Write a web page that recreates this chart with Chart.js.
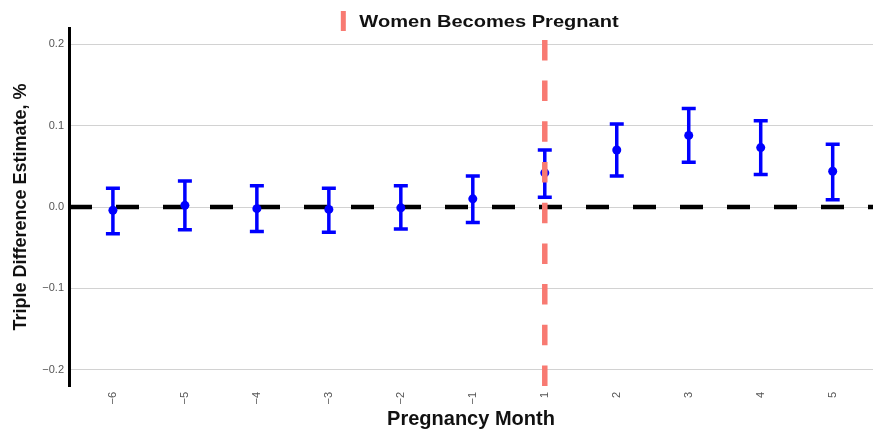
<!DOCTYPE html>
<html>
<head>
<meta charset="utf-8">
<script src="https://cdn.jsdelivr.net/npm/chart.js@4/dist/chart.umd.min.js"></script>
<style>
  html, body { margin: 0; padding: 0; background: #fff; }
  #chart { display: block; }
</style>
</head>
<body>
<canvas id="chart" width="873" height="433"></canvas>
<script>
// Event-study estimates by pregnancy month
const months = ['\u22126', '\u22125', '\u22124', '\u22123', '\u22122', '\u22121', '1', '2', '3', '4', '5'];
const estimates = [-0.004, 0.002, -0.002, -0.003, -0.001, 0.010, 0.042, 0.070, 0.088, 0.073, 0.044];
const lower = [-0.033, -0.028, -0.030, -0.031, -0.027, -0.019, 0.012, 0.038, 0.055, 0.040, 0.009];
const upper = [0.023, 0.032, 0.026, 0.023, 0.026, 0.038, 0.070, 0.102, 0.121, 0.106, 0.077];
const yTicks = [-0.2, -0.1, 0, 0.1, 0.2];
const pregnancyMonth = '1';
const eventLabel = 'Women Becomes Pregnant';

const xMin = -0.61, xMax = 10.56;
const yMin = -0.22, yMax = 0.22;
const eventX = months.indexOf(pregnancyMonth);

const FONT = "'Liberation Sans', Arial, Helvetica, sans-serif";
const BLUE = '#0000ff';
const RED = '#f87a72';

// draws the confidence interval whiskers using the chart scales
const errorBars = {
    id: 'errorBars',
    beforeDatasetDraw(chart, args) {
        if (args.index !== 1) return;
        const x = chart.scales.x, y = chart.scales.y;
        const ctx = chart.ctx;
        ctx.save();
        ctx.strokeStyle = BLUE;
        ctx.lineWidth = 3.5;
        months.forEach((m, i) => {
            const px = x.getPixelForValue(i);
            const top = y.getPixelForValue(upper[i]);
            const bot = y.getPixelForValue(lower[i]);
            ctx.beginPath();
            ctx.moveTo(px, top);
            ctx.lineTo(px, bot);
            ctx.moveTo(px - 7, top);
            ctx.lineTo(px + 7, top);
            ctx.moveTo(px - 7, bot);
            ctx.lineTo(px + 7, bot);
            ctx.stroke();
        });
        ctx.restore();
    }
};

// legend sits over the top edge of the plot, so it is drawn by hand
const topLegend = {
    id: 'topLegend',
    afterDraw(chart) {
        const ctx = chart.ctx;
        const area = chart.chartArea;
        const cx = (area.left + area.right) / 2 + 10;
        ctx.save();
        ctx.font = 'bold 17px ' + FONT;
        const stretch = 1.18;
        const tw = ctx.measureText(eventLabel).width * stretch;
        const total = 16 + tw;
        const left = cx - total / 2;
        ctx.strokeStyle = RED;
        ctx.lineWidth = 5;
        ctx.beginPath();
        ctx.moveTo(left, 11);
        ctx.lineTo(left, 31);
        ctx.stroke();
        ctx.translate(left + 16, 27.3);
        ctx.scale(stretch, 1);
        ctx.fillStyle = '#111';
        ctx.textBaseline = 'alphabetic';
        ctx.textAlign = 'left';
        ctx.fillText(eventLabel, 0, 0);
        ctx.restore();
    }
};

const points = estimates.map((v, i) => ({ x: i, y: v }));

new Chart(document.getElementById('chart'), {
    type: 'scatter',
    plugins: [errorBars, topLegend],
    data: {
        datasets: [
            {
                type: 'line',
                label: eventLabel,
                data: [{ x: eventX, y: yMin }, { x: eventX, y: yMax }],
                borderColor: RED,
                backgroundColor: RED,
                borderWidth: 5.5,
                borderDash: [20.5, 20.2],
                pointRadius: 0,
                fill: false
            },
            {
                label: 'Estimate',
                data: points,
                backgroundColor: BLUE,
                borderColor: BLUE,
                pointRadius: 4.5,
                pointBorderWidth: 0
            },
            {
                type: 'line',
                label: 'Zero',
                data: [{ x: xMin, y: 0 }, { x: xMax, y: 0 }],
                borderColor: '#000',
                borderWidth: 4.5,
                borderDash: [23, 24],
                pointRadius: 0,
                fill: false
            }
        ]
    },
    options: {
        responsive: false,
        devicePixelRatio: 1,
        animation: false,
        layout: { autoPadding: false, padding: { top: 28, left: 0, right: 0, bottom: 0 } },
        plugins: {
            tooltip: { enabled: false },
            legend: { display: false }
        },
        scales: {
            x: {
                type: 'linear',
                min: xMin,
                max: xMax,
                afterFit: s => { s.height = 47; s.paddingLeft = 0; s.paddingRight = 0; },
                afterBuildTicks: s => { s.ticks = months.map((m, i) => ({ value: i })); },
                grid: { display: false, drawTicks: false },
                border: { display: false },
                ticks: {
                    autoSkip: false,
                    minRotation: 90,
                    maxRotation: 90,
                    padding: 6,
                    color: '#555',
                    font: { family: FONT, size: 11 },
                    callback: v => months[v]
                },
                title: {
                    display: true,
                    text: 'Pregnancy Month',
                    color: '#111',
                    padding: { top: 0, bottom: 2 },
                    font: { family: FONT, size: 20, weight: 'bold' }
                }
            },
            y: {
                min: yMin,
                max: yMax,
                afterFit: s => { s.width = 69; s.paddingTop = 0; s.paddingBottom = 0; },
                afterBuildTicks: s => { s.ticks = yTicks.map(v => ({ value: v })); },
                grid: { color: '#d2d2d2', lineWidth: 1, drawTicks: false },
                border: { display: true, color: '#000', width: 3 },
                ticks: {
                    padding: 5,
                    color: '#555',
                    font: { family: FONT, size: 11 },
                    callback: v => (v < 0 ? '\u2212' : '') + Math.abs(v).toFixed(1)
                },
                title: {
                    display: true,
                    text: 'Triple Difference Estimate, %',
                    color: '#111',
                    padding: { top: 10, bottom: 0 },
                    font: { family: FONT, size: 18, weight: 'bold' }
                }
            }
        }
    }
});
</script>
</body>
</html>
